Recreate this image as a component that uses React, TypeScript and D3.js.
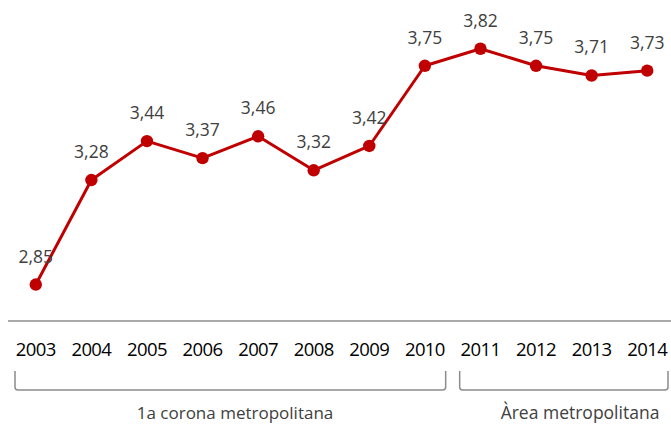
import React from "react";
import * as d3 from "d3";

const years = ["2003","2004","2005","2006","2007","2008","2009","2010","2011","2012","2013","2014"];
const values = [2.85, 3.28, 3.44, 3.37, 3.46, 3.32, 3.42, 3.75, 3.82, 3.75, 3.71, 3.73];
const groups = [
  { label: "1a corona metropolitana", from: "2003", to: "2010" },
  { label: "Àrea metropolitana", from: "2011", to: "2014" },
];

const W = 671, H = 424;

export default function App() {
  const x = d3.scaleBand<string>().domain(years).range([8, 675]);
  const y = d3.scaleLinear().domain([2.7, 4.0]).range([321, 5]);
  const cx = (yr: string) => (x(yr) as number) + x.bandwidth() / 2;
  const line = d3.line<number>().x((_, i) => cx(years[i])).y((v) => y(v));
  const fmt = (v: number) => d3.format(".2f")(v).replace(".", ",");
  const font = "Open Sans, Liberation Sans, sans-serif";

  const bracket = (x0: number, x1: number) => {
    const top = 371, bot = 390, r = 3;
    return `M${x0},${top} L${x0},${bot - r} Q${x0},${bot} ${x0 + r},${bot} L${x1 - r},${bot} Q${x1},${bot} ${x1},${bot - r} L${x1},${top}`;
  };

  return (
    <svg width={W} height={H} style={{ position: "absolute", left: 0, top: 0 }}>
      <rect width={W} height={H} fill="#fff" />
      <line x1={8} x2={671} y1={y(2.7)} y2={y(2.7)} stroke="#8c8c8c" strokeWidth={1.5} />
      {years.map((yr) => (
        <text key={yr} x={cx(yr)} y={356} textAnchor="middle" fontFamily={font} fontSize={18.5} letterSpacing={-0.6} fill="#000">
          {yr}
        </text>
      ))}
      <path d={line(values) || ""} fill="none" stroke="#C00000" strokeWidth={3} strokeLinejoin="round" />
      {values.map((v, i) => (
        <circle key={i} cx={cx(years[i])} cy={y(v)} r={6.2} fill="#C00000" />
      ))}
      {values.map((v, i) => (
        <text key={"l" + i} x={cx(years[i])} y={y(v) - 22} textAnchor="middle" fontFamily={font} fontSize={17.5} fill="#404040">
          {fmt(v)}
        </text>
      ))}
      {groups.map((g, i) => {
        const x0 = Math.max((x(g.from) as number) + 7, 15);
        const x1 = Math.min((x(g.to) as number) + x.bandwidth() - 7, 670);
        return (
          <g key={g.label}>
            <path d={bracket(x0, x1)} fill="none" stroke="#8c8c8c" strokeWidth={1.5} />
            <text x={i === 0 ? 235 : 580} y={419} textAnchor="middle" fontFamily={font} fontSize={i === 0 ? 17 : 17.5} fill="#404040">
              {g.label}
            </text>
          </g>
        );
      })}
    </svg>
  );
}
